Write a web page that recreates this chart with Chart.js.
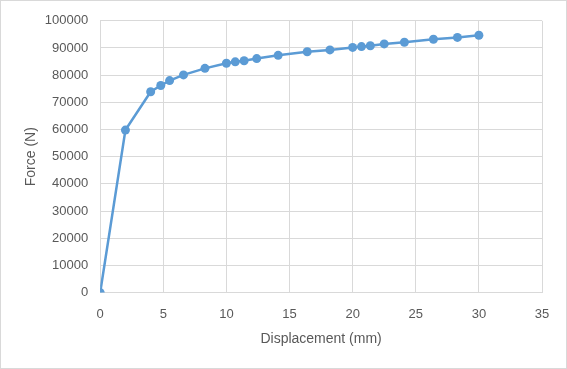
<!DOCTYPE html>
<html>
<head>
<meta charset="utf-8">
<script src="https://cdn.jsdelivr.net/npm/chart.js@4/dist/chart.umd.min.js"></script>
<style>
  html, body { margin: 0; padding: 0; background: #fff; }
  #wrap { width: 565px; height: 367px; border: 1px solid #d9d9d9; }
</style>
</head>
<body>
<div id="wrap"><canvas id="c" width="565" height="367"></canvas></div>
<script>
// displacement (mm) and force (N)
const displacement = [0, 2, 4, 4.8, 5.5, 6.6, 8.3, 10, 10.7, 11.4, 12.4, 14.1, 16.4, 18.2, 20, 20.7, 21.4, 22.5, 24.1, 26.4, 28.3, 30];
const force = [0, 59800, 73900, 76200, 78000, 80100, 82500, 84400, 84900, 85300, 86100, 87300, 88600, 89300, 90200, 90500, 90800, 91500, 92100, 93200, 93900, 94700];

const xTicks = [0, 5, 10, 15, 20, 25, 30, 35];
const yTicks = [0, 10000, 20000, 30000, 40000, 50000, 60000, 70000, 80000, 90000, 100000];

const points = displacement.map((d, i) => ({ x: d, y: force[i] }));
const blue = '#5b9bd5';
const textGray = '#595959';
const fam = 'Liberation Sans, Arial, sans-serif';
const tickFont = { family: fam, size: 13 };
const titleFont = { family: fam, size: 14 };

new Chart(document.getElementById('c'), {
  type: 'scatter',
  data: {
    datasets: [{
      data: points,
      showLine: true,
      borderColor: blue,
      backgroundColor: blue,
      borderWidth: 2.5,
      pointRadius: 4.5,
      pointBorderWidth: 0,
      tension: 0
    }]
  },
  options: {
    responsive: false,
    animation: false,
    layout: { padding: { left: 22, right: 24, top: 12, bottom: 20 } },
    plugins: { legend: { display: false }, tooltip: { enabled: false } },
    scales: {
      x: {
        type: 'linear',
        min: 0, max: 35,
        afterBuildTicks: ax => { ax.ticks = xTicks.map(v => ({ value: v })); },
        grid: { color: '#d9d9d9', drawTicks: false },
        border: { color: '#d9d9d9' },
        ticks: { color: textGray, font: tickFont, padding: 14 },
        title: { display: true, text: 'Displacement (mm)', color: textGray, font: titleFont, padding: { top: -5, bottom: 0 } }
      },
      y: {
        min: 0, max: 100000,
        afterBuildTicks: ax => { ax.ticks = yTicks.map(v => ({ value: v })); },
        grid: { color: '#d9d9d9', drawTicks: false },
        border: { display: false },
        ticks: { color: textGray, font: tickFont, padding: 12, callback: v => String(v) },
        title: { display: true, text: 'Force (N)', color: textGray, font: titleFont, padding: { top: 0, bottom: -7 } }
      }
    }
  }
});
</script>
</body>
</html>
